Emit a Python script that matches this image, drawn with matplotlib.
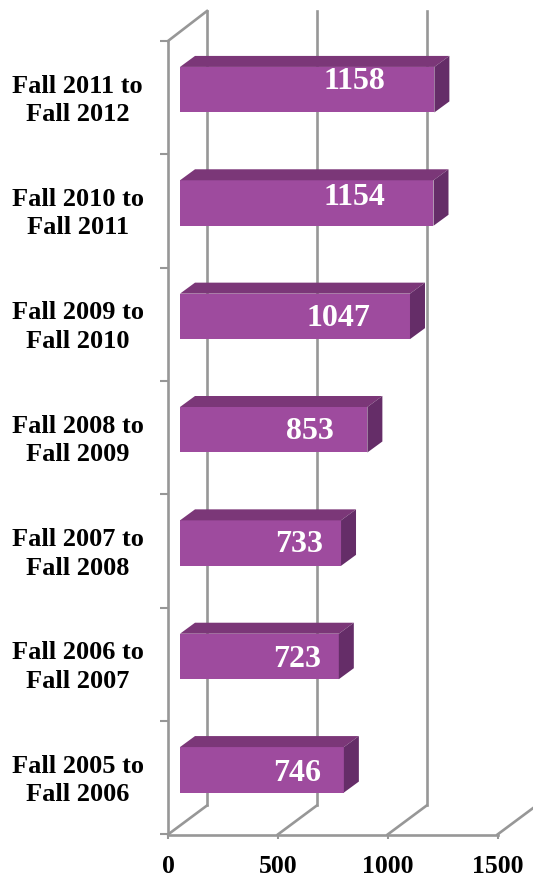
import numpy as np
import matplotlib
matplotlib.use("Agg")
import matplotlib.pyplot as plt
from matplotlib.transforms import ScaledTranslation

periods = ["Fall 2005 to\nFall 2006", "Fall 2006 to\nFall 2007", "Fall 2007 to\nFall 2008",
           "Fall 2008 to\nFall 2009", "Fall 2009 to\nFall 2010", "Fall 2010 to\nFall 2011",
           "Fall 2011 to\nFall 2012"]
values = [746, 723, 733, 853, 1047, 1154, 1158]
x_ticks = [0, 500, 1000, 1500]

# where the labels sit inside each bar (share of bar length, px above bar centre)
label_frac = [0.716, 0.74, 0.74, 0.695, 0.69, 0.69, 0.685]
label_up = [-4, -3, -1, -2, -2, 6, 8]

plt.rcParams["font.family"] = ["Liberation Serif", "DejaVu Serif"]
plt.rcParams["font.weight"] = "bold"

W, H = 533, 880
fig = plt.figure(figsize=(W / 100, H / 100), dpi=100)
ax = fig.add_axes([168 / W, 1 - 834.5 / H, (497.5 - 168) / W, (834.5 - 41) / H])
ax.set_xlim(0, 1500)
ax.set_ylim(-0.5, 6.5)

px_x = 1500 / (497.5 - 168)
px_y = 7 / (834.5 - 41)

grid = "#979797"
back_dx = 39 * px_x
back_dy = 29 * px_y
top_extra = 1 * px_y

# back wall and floor lines
for t in x_ticks:
    ax.plot([t, t + back_dx], [-0.5, -0.5 + back_dy], color=grid, lw=1.9, clip_on=False, zorder=1)
    if t < 1500:
        ax.plot([t + back_dx, t + back_dx], [-0.5 + back_dy, 6.5 + back_dy + top_extra],
                color=grid, lw=1.9, clip_on=False, zorder=1)
ax.plot([0, back_dx], [6.5, 6.5 + back_dy + top_extra], color=grid, lw=1.9, clip_on=False, zorder=1)

# bars: front face, then top and side for the 3d look
y = np.arange(len(values))
start = 12 * px_x
bar_h = 45.5 * px_y
shift = 8 * px_y
dx = 15 * px_x
dy = 11 * px_y
front = "#9E4B9E"
top = "#7B3778"
side = "#652D68"
for i, v in enumerate(values):
    low = y[i] + shift - bar_h / 2
    high = y[i] + shift + bar_h / 2
    ax.barh(y[i] + shift, v, height=bar_h, left=start, color=front, zorder=3)
    ax.fill([start, start + v, start + v + dx, start + dx], [high, high, high + dy, high + dy],
            color=top, lw=0, zorder=3)
    ax.fill([start + v, start + v + dx, start + v + dx, start + v], [low, low + dy, high + dy, high],
            color=side, lw=0, zorder=3)
    ax.text(start + v * label_frac[i], y[i] + shift + label_up[i] * px_y, str(v), color="white",
            fontsize=23, fontweight="bold", ha="center", va="center", zorder=4)

for s in ["top", "right"]:
    ax.spines[s].set_visible(False)
for s in ["left", "bottom"]:
    ax.spines[s].set_color(grid)
    ax.spines[s].set_linewidth(1.9)
    ax.spines[s].set_zorder(2)

ax.set_xticks(x_ticks)
ax.set_xticklabels([str(t) for t in x_ticks], fontsize=18.5, fontweight="bold")
ax.tick_params(axis="x", color=grid, width=1.5, length=3, pad=12)

ax.set_yticks(y)
ax.set_yticklabels(periods, fontsize=19, fontweight="bold", ha="center", linespacing=1.3)
ax.tick_params(axis="y", which="major", length=0, pad=65)
ax.set_yticks(np.arange(-0.5, 7, 1), minor=True)
ax.tick_params(axis="y", which="minor", color=grid, width=1.5, length=6)

# nudge the two line category labels up a little
nudge = ScaledTranslation(0, 2.5 / 100, fig.dpi_scale_trans)
for label in ax.get_yticklabels():
    label.set_transform(label.get_transform() + nudge)

fig.savefig("out.png", dpi=100)
